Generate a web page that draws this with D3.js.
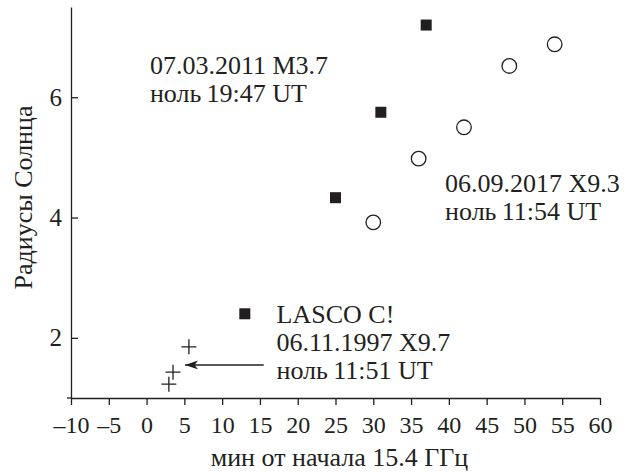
<!DOCTYPE html>
<html>
<head>
<meta charset="utf-8">
<script src="https://cdn.jsdelivr.net/npm/d3@7"></script>
<style>
  body { margin: 0; background: #fff; }
  svg text { font-family: "Liberation Serif", "Times New Roman", serif; fill: #231f20; }
</style>
</head>
<body>
<div id="chart"></div>
<script>
// data
const squaresX = [25, 31, 37, 13];
const squaresY = [4.33, 5.75, 7.2, 2.4];
const circlesX = [30, 36, 42, 48, 54];
const circlesY = [3.92, 4.98, 5.5, 6.52, 6.88];
const crossesX = [5.6, 3.5, 2.95];
const crossesY = [1.85, 1.43, 1.23];
const xTicks = d3.range(-10, 61, 5);
const yTicks = [2, 4, 6];
const arrowX = [15.5, 5.1];
const arrowY = 1.55;

// annotation blocks: [x, y of first baseline, lines]
const notes = [
  [0.44, 6.38, ["07.03.2011 M3.7", "ноль\u200919:47 UT"]],
  [39.5, 4.42, ["06.09.2017 X9.3", "ноль\u200911:54 UT"]],
  [17.2, 2.25, ["LASCO C!", "06.11.1997 X9.7", "ноль\u200911:51 UT"]]
];

const W = 635, H = 473;
const margin = { top: 7, right: 35, bottom: 75, left: 71 };
const ink = "#231f20";

const svg = d3.select("#chart").append("svg")
  .attr("width", W)
  .attr("height", H);

const x = d3.scaleLinear().domain([-10, 60]).range([margin.left, W - margin.right]);
const y = d3.scaleLinear().domain([1, 7.5]).range([H - margin.bottom, margin.top]);

const fmt = d => String(d).replace("-", "\u2013");

// x axis
const gx = svg.append("g")
  .attr("transform", `translate(0,${y(1)})`)
  .call(d3.axisBottom(x).tickValues(xTicks).tickFormat(fmt).tickSizeInner(7).tickSizeOuter(0).tickPadding(11));
gx.selectAll("text").style("font-size", "24px").attr("fill", ink);
gx.selectAll("line, path").attr("stroke", ink).attr("stroke-width", 1.3);
// small overhang left of the y axis
gx.append("line").attr("x1", x(-10) - 4).attr("x2", x(-10)).attr("stroke", ink).attr("stroke-width", 1.3);

// y axis, ticks pointing inward
const gy = svg.append("g")
  .attr("transform", `translate(${x(-10)},0)`)
  .call(d3.axisLeft(y).tickValues(yTicks).tickFormat(d3.format("d")).tickSizeInner(-7).tickSizeOuter(0).tickPadding(9));
gy.selectAll("text").style("font-size", "25px").attr("fill", ink);
gy.selectAll("line, path").attr("stroke", ink).attr("stroke-width", 1.3);

// axis titles
svg.append("text")
  .attr("x", (x(-10) + x(60)) / 2 + 4)
  .attr("y", H - 7)
  .attr("text-anchor", "middle")
  .style("font-size", "26px")
  .text("мин от начала 15.4 ГГц");

svg.append("text")
  .attr("transform", `translate(32,${(y(1) + y(7.5)) / 2 - 5}) rotate(-90)`)
  .attr("text-anchor", "middle")
  .style("font-size", "26px")
  .text("Радиусы Солнца");

// filled squares
const sq = 11;
svg.selectAll(".sq")
  .data(d3.zip(squaresX, squaresY))
  .enter().append("rect")
  .attr("class", "sq")
  .attr("x", d => x(d[0]) - sq / 2)
  .attr("y", d => y(d[1]) - sq / 2)
  .attr("width", sq)
  .attr("height", sq)
  .attr("fill", ink);

// open circles
svg.selectAll(".circ")
  .data(d3.zip(circlesX, circlesY))
  .enter().append("circle")
  .attr("class", "circ")
  .attr("cx", d => x(d[0]))
  .attr("cy", d => y(d[1]))
  .attr("r", 7.3)
  .attr("fill", "none")
  .attr("stroke", ink)
  .attr("stroke-width", 1.3);

// crosses
const cs = 7.5;
svg.selectAll(".cross")
  .data(d3.zip(crossesX, crossesY))
  .enter().append("path")
  .attr("class", "cross")
  .attr("d", d => `M${x(d[0]) - cs},${y(d[1])}H${x(d[0]) + cs}M${x(d[0])},${y(d[1]) - cs}V${y(d[1]) + cs}`)
  .attr("stroke", ink)
  .attr("stroke-width", 1.3);

// arrow
svg.append("defs").append("marker")
  .attr("id", "head")
  .attr("viewBox", "0 0 13 9")
  .attr("refX", 13).attr("refY", 4.5)
  .attr("markerWidth", 13).attr("markerHeight", 9)
  .attr("markerUnits", "userSpaceOnUse")
  .attr("orient", "auto")
  .append("path")
  .attr("d", "M0,0L13,4.5L0,9L3.5,4.5Z")
  .attr("fill", ink);

svg.append("line")
  .attr("x1", x(arrowX[0])).attr("y1", y(arrowY))
  .attr("x2", x(arrowX[1])).attr("y2", y(arrowY))
  .attr("stroke", ink)
  .attr("stroke-width", 1.5)
  .attr("marker-end", "url(#head)");

// annotations
notes.forEach(([nx, ny, lines]) => {
  const t = svg.append("text")
    .attr("x", x(nx))
    .attr("y", y(ny))
    .style("font-size", "26px");
  lines.forEach((l, i) => {
    t.append("tspan")
      .attr("x", x(nx))
      .attr("dy", i === 0 ? 0 : 28)
      .text(l);
  });
});
</script>
</body>
</html>
